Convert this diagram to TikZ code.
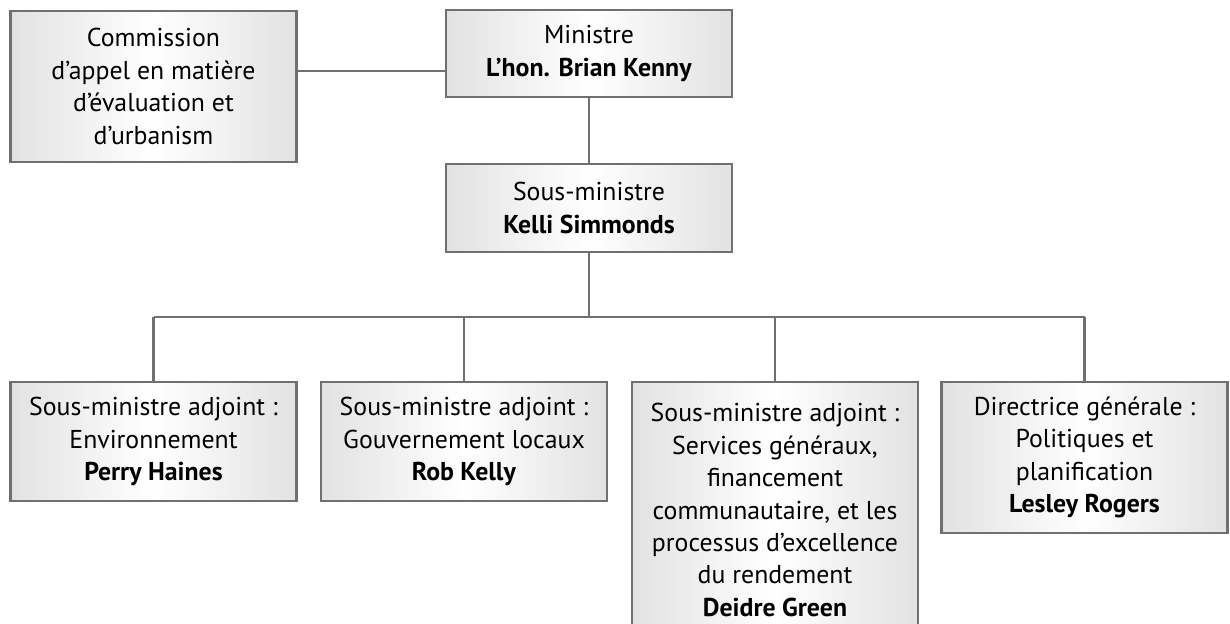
\documentclass[tikz,border=0pt]{standalone}
\usepackage{fontspec}
\setmainfont{PT Sans}
\usetikzlibrary{calc}
\definecolor{trait}{HTML}{6F7074}
\definecolor{fond}{HTML}{E2E2E2}

\begin{document}
\begin{tikzpicture}[x=0.5pt,y=-0.5pt]
		\tikzstyle{every node}+=[inner sep=0pt]
		\tikzstyle{boite}=[draw=trait, line width=1.3pt, left color=fond, right color=fond, middle color=white, align=center, minimum width=143pt, font=\fontsize{12.9pt}{16.2pt}\selectfont]
		\tikzstyle{lien}=[draw=trait, line width=1.4pt]
		\useasboundingbox (0,0) rectangle (1230,624);
		\node [boite, minimum height=75.5pt] (comm) at (153.5,86.5) {Commission\\d’appel en matière\\d’évaluation et\\d’urbanism};
		\node [boite, minimum height=43.5pt] (mini) at (589,53.5) {Ministre\\\textbf{L’hon. Brian Kenny}};
		\node [boite, minimum height=44pt] (smin) at (589,208) {Sous-ministre\\\textbf{Kelli Simmonds}};
		\node [boite, minimum height=59.5pt] (adj1) at (153.5,441.5) {Sous-ministre adjoint :\\Environnement\\\textbf{Perry Haines}};
		\node [boite, minimum height=59.5pt] (adj2) at (464,441.5) {Sous-ministre adjoint :\\Gouvernement locaux\\\textbf{Rob Kelly}};
		\node [boite, minimum height=128pt] (adj3) at (775,510) {Sous-ministre adjoint :\\Services généraux,\\financement\\communautaire, et les\\processus d’excellence\\du rendement\\\textbf{Deidre Green}};
		\node [boite, minimum height=75.5pt] (adj4) at (1084.5,457.5) {Directrice générale :\\Politiques et\\planification\\\textbf{Lesley Rogers}};
		\coordinate (bus) at (589,317);
		\draw [lien] ([yshift=7.75pt]comm.east) -- ([yshift=7.75pt]comm.east -| mini.west);
		\draw [lien] (mini.south) -- (smin.north);
		\draw [lien] (smin.south) -- (bus);
		\draw [lien] (bus -| adj1.north) -- (bus -| adj4.north);
		\draw [lien] (bus -| adj1.north) -- (adj1.north);
		\draw [lien] (bus -| adj2.north) -- (adj2.north);
		\draw [lien] (bus -| adj3.north) -- (adj3.north);
		\draw [lien] (bus -| adj4.north) -- (adj4.north);
	\end{tikzpicture}
\end{document}
